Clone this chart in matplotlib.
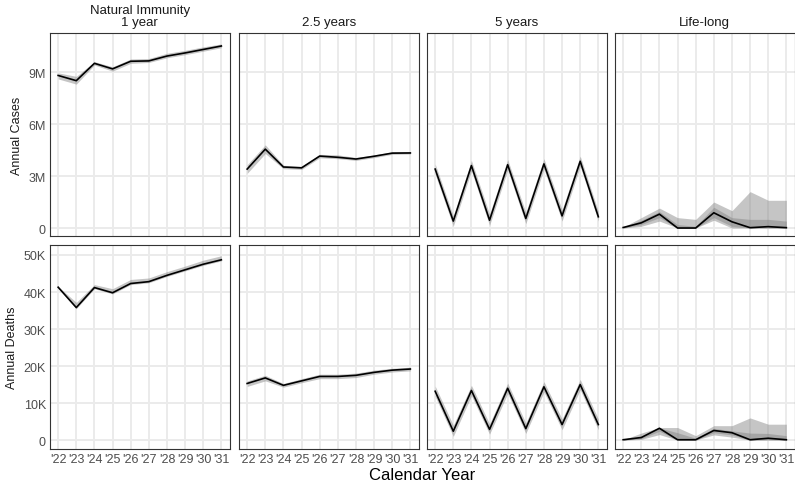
import numpy as np
import matplotlib.pyplot as plt
from matplotlib.ticker import FuncFormatter

plt.rcParams['font.family'] = ['Liberation Sans', 'DejaVu Sans']

years = [2022, 2023, 2024, 2025, 2026, 2027, 2028, 2029, 2030, 2031]
year_labels = ["'22", "'23", "'24", "'25", "'26", "'27", "'28", "'29", "'30", "'31"]
scenarios = ['Natural Immunity\n1 year', '2.5 years', '5 years', 'Life-long']

# annual cases (millions): median, outer band, inner band
cases_mid = [
    [8.8, 8.5, 9.5, 9.18, 9.62, 9.64, 9.92, 10.1, 10.3, 10.5],
    [3.4, 4.55, 3.52, 3.47, 4.15, 4.08, 3.98, 4.14, 4.32, 4.33],
    [3.4, 0.4, 3.6, 0.45, 3.65, 0.55, 3.7, 0.7, 3.85, 0.65],
    [0.03, 0.3, 0.8, 0.0, 0.0, 0.88, 0.36, 0.02, 0.08, 0.02],
]
cases_lo = [
    [8.6, 8.3, 9.4, 9.05, 9.5, 9.55, 9.82, 10.0, 10.2, 10.4],
    [3.15, 4.3, 3.42, 3.38, 4.05, 4.0, 3.9, 4.06, 4.25, 4.27],
    [3.1, 0.1, 3.3, 0.15, 3.35, 0.25, 3.4, 0.4, 3.55, 0.4],
    [0.0, 0.1, 0.4, 0.0, 0.0, 0.45, 0.0, 0.0, 0.0, 0.0],
]
cases_hi = [
    [8.95, 8.75, 9.6, 9.3, 9.75, 9.78, 10.08, 10.25, 10.45, 10.62],
    [3.65, 4.8, 3.62, 3.56, 4.25, 4.22, 4.07, 4.22, 4.4, 4.4],
    [3.7, 0.7, 3.9, 0.8, 3.95, 0.9, 4.0, 1.05, 4.15, 0.95],
    [0.05, 0.6, 1.15, 0.6, 0.5, 1.5, 1.0, 2.1, 1.6, 1.6],
]
cases_lo50 = [None, None, None, [0.0, 0.2, 0.6, 0.0, 0.0, 0.6, 0.1, 0.0, 0.0, 0.0]]
cases_hi50 = [None, None, None, [0.04, 0.45, 0.95, 0.2, 0.1, 1.2, 0.6, 0.5, 0.5, 0.4]]

# annual deaths (thousands)
deaths_mid = [
    [41.3, 35.8, 41.2, 39.8, 42.3, 42.8, 44.5, 46.0, 47.5, 48.7],
    [15.3, 16.8, 14.8, 16.0, 17.2, 17.2, 17.5, 18.3, 18.9, 19.2],
    [13.2, 2.4, 13.4, 2.9, 14.0, 3.1, 14.4, 4.2, 15.0, 4.2],
    [0.1, 0.7, 3.2, 0.1, 0.1, 2.6, 2.0, 0.1, 0.5, 0.1],
]
deaths_lo = [
    [41.0, 35.5, 40.9, 39.5, 42.0, 42.5, 44.2, 45.7, 47.2, 48.4],
    [14.5, 16.0, 14.3, 15.5, 16.6, 16.6, 16.9, 17.8, 18.4, 18.7],
    [11.8, 1.0, 12.0, 1.6, 12.6, 1.8, 13.0, 2.8, 13.6, 2.8],
    [0.0, 0.2, 1.5, 0.0, 0.0, 1.4, 0.8, 0.0, 0.0, 0.0],
]
deaths_hi = [
    [41.5, 37.2, 42.0, 40.9, 43.4, 43.8, 45.5, 47.0, 48.6, 49.8],
    [16.0, 17.5, 15.3, 16.6, 17.8, 17.8, 18.1, 18.9, 19.4, 19.7],
    [14.6, 4.0, 14.8, 4.4, 15.4, 4.6, 15.8, 5.7, 16.4, 5.7],
    [0.1, 1.9, 3.4, 3.4, 1.2, 3.9, 3.9, 6.0, 4.3, 4.3],
]
deaths_lo50 = [None, None, None, [0.0, 0.4, 2.4, 0.0, 0.0, 2.0, 1.4, 0.0, 0.1, 0.0]]
deaths_hi50 = [None, None, None, [0.1, 1.0, 3.3, 2.0, 0.5, 3.2, 2.5, 1.9, 1.8, 1.2]]

W, H = 795, 485
fig = plt.figure(figsize=(W / 100, H / 100), dpi=100)

lefts = [50, 239, 427, 615]
pw = 179.5
rows = [(34, 237), (246, 450)]

rows_data = [
    (cases_mid, cases_lo, cases_hi, cases_lo50, cases_hi50, 1e6,
     (-0.46e6, 11.25e6), [0, 3e6, 6e6, 9e6], 'Annual Cases',
     lambda v, p: '0' if v == 0 else '%dM' % round(v / 1e6)),
    (deaths_mid, deaths_lo, deaths_hi, deaths_lo50, deaths_hi50, 1e3,
     (-2.4e3, 52.7e3), [0, 1e4, 2e4, 3e4, 4e4, 5e4], 'Annual Deaths',
     lambda v, p: '0' if v == 0 else '%dK' % round(v / 1e3)),
]

for r, (top, bot) in enumerate(rows):
    mid, lo, hi, lo50, hi50, scale, ylim, yticks, ylab, fmt = rows_data[r]
    for c in range(4):
        ax = fig.add_axes([lefts[c] / W, 1 - bot / H, pw / W, (bot - top) / H])
        y = np.array(mid[c]) * scale
        ax.fill_between(years, np.array(lo[c]) * scale, np.array(hi[c]) * scale,
                        color='grey', alpha=0.45, lw=0, zorder=2)
        if lo50[c] is not None:
            ax.fill_between(years, np.array(lo50[c]) * scale, np.array(hi50[c]) * scale,
                            color='grey', alpha=0.45, lw=0, zorder=2)
        ax.plot(years, y, color='black', lw=1.2, zorder=3)
        ax.set_xlim(2021.55, 2031.45)
        ax.set_ylim(*ylim)
        ax.set_xticks(years)
        ax.set_yticks(yticks)
        ax.grid(True, color='#EBEBEB', lw=1.4, zorder=0)
        ax.set_axisbelow(True)
        ax.tick_params(length=0, pad=3, labelsize=9, colors='#4D4D4D')
        ax.yaxis.set_major_formatter(FuncFormatter(fmt))
        for s in ax.spines.values():
            s.set_color('#333333')
            s.set_linewidth(0.8)
        if r == 1:
            ax.set_xticklabels(year_labels)
        else:
            ax.set_xticklabels([])
        if c == 0:
            ax.set_ylabel(ylab, fontsize=9, color='#1A1A1A', labelpad=4)
        else:
            ax.set_yticklabels([])
        if r == 0:
            ax.text(0.5, 1.025, scenarios[c], transform=ax.transAxes, ha='center',
                    va='bottom', fontsize=9.5, color='#1A1A1A', linespacing=1.0)

fig.text((50 + 794) / 2 / W, 1 - 476 / H, 'Calendar Year', ha='center', va='center',
         fontsize=12, color='black')

fig.savefig('out.png', dpi=100)
